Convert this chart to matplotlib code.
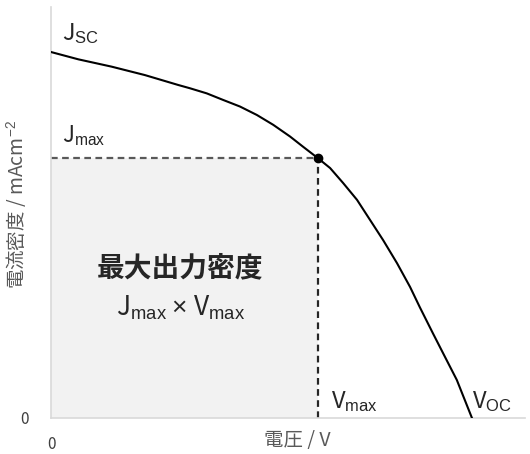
import matplotlib.pyplot as plt
import numpy as np

plt.rcParams['font.family'] = ['Noto Sans CJK JP', 'DejaVu Sans']
plt.rcParams['mathtext.fontset'] = 'custom'
plt.rcParams['mathtext.rm'] = 'Liberation Sans'
plt.rcParams['mathtext.it'] = 'Liberation Sans'

# J-V curve (V / Voc, J / Jsc)
voltage = [0.0, 0.065, 0.144, 0.223, 0.302, 0.330, 0.370, 0.409, 0.449, 0.489,
           0.528, 0.568, 0.599, 0.634, 0.663, 0.694, 0.727, 0.758, 0.789, 0.822,
           0.853, 0.876, 0.907, 0.931, 0.964, 1.0]
current = [1.0, 0.980, 0.960, 0.937, 0.910, 0.901, 0.887, 0.869, 0.851, 0.828,
           0.801, 0.769, 0.741, 0.710, 0.683, 0.642, 0.596, 0.541, 0.486, 0.423,
           0.358, 0.303, 0.232, 0.178, 0.104, 0.0]
v_max = 0.634
j_max = 0.710

fig = plt.figure(figsize=(5.3, 4.54), dpi=100)
ax = fig.add_axes([51 / 530, 1 - 418 / 454, (525 - 51) / 530, (418 - 7) / 454])

ax.fill_between([0, v_max], 0, j_max, color='#f2f2f2', lw=0, zorder=1)
ax.plot([0, v_max], [j_max, j_max], ls=(0, (3, 2)), color='#595959', lw=1.6, zorder=2)
ax.plot([v_max, v_max], [0, j_max], ls=(0, (3, 2)), color='#262626', lw=1.6, zorder=2)
ax.plot(voltage, current, color='black', lw=1.5, zorder=3)
ax.plot([v_max], [j_max], 'o', color='black', ms=6, zorder=4)

ax.set_xlim(0, 1.126)
ax.set_ylim(0, 1.123)

for side in ['top', 'right']:
    ax.spines[side].set_visible(False)
for side in ['left', 'bottom']:
    ax.spines[side].set_color('#d9d9d9')
    ax.spines[side].set_linewidth(1.2)

ax.set_xticks([0])
ax.set_yticks([0])
ax.tick_params(length=0, labelsize=11, labelcolor='#404040')
ax.tick_params(axis='x', pad=13)
ax.tick_params(axis='y', pad=16)

ax.set_xlabel('電圧 / V', fontsize=14, color='#595959')
ax.xaxis.set_label_coords((297 - 51) / 474, -(430 - 418) / 411, transform=ax.transAxes)
ax.set_ylabel('電流密度 / mAcm$^{-2}$', fontsize=14, color='#595959')
ax.yaxis.set_label_coords(-(51 - 28) / 474, 0.52)

tcol = '#262626'
ax.text(0.025, 1.05, r'J$_{\mathrm{SC}}$', fontsize=17, color=tcol, va='center', ha='left')
ax.text(0.025, 0.77, r'J$_{\mathrm{max}}$', fontsize=16, color=tcol, va='center', ha='left')
ax.text(v_max + 0.03, 0.045, r'V$_{\mathrm{max}}$', fontsize=17, color=tcol, va='center', ha='left')
ax.text(1.0, 0.045, r'V$_{\mathrm{OC}}$', fontsize=17, color=tcol, va='center', ha='left')
ax.text(0.307, 0.41, '最大出力密度', fontsize=20, fontweight='bold', color=tcol,
        ha='center', va='center')
ax.text(0.307, 0.30, r'J$_{\mathrm{max}}$ $\times$ V$_{\mathrm{max}}$', fontsize=19, color=tcol,
        ha='center', va='center')

fig.savefig('out.png', dpi=100)
